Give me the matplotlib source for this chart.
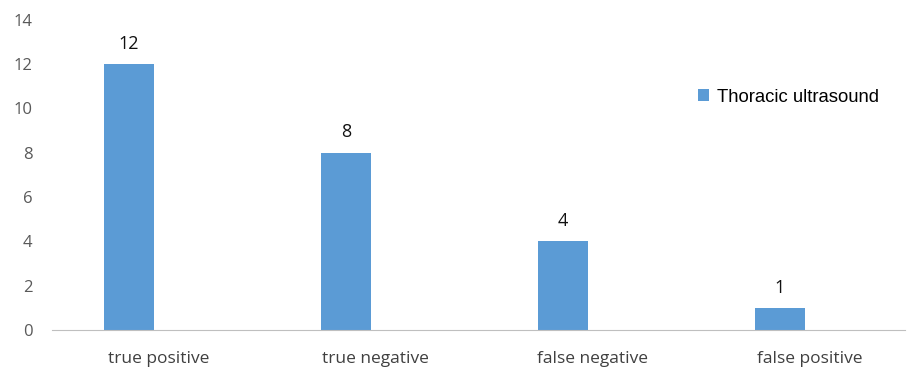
import matplotlib
matplotlib.use("Agg")
import matplotlib.pyplot as plt

categories = ["true positive", "true negative", "false negative", "false positive"]
values = [12, 8, 4, 1]
series_name = "Thoracic ultrasound"
BLUE = "#5B9BD5"

fig = plt.figure(figsize=(9.1, 3.7), dpi=100)
ax = fig.add_axes([52 / 910, 40 / 370, 853 / 910, 310.5 / 370])

# bars sit left of the category centre (space left for an empty 2nd series)
x = list(range(len(categories)))
bars = ax.bar(x, values, width=0.23, color=BLUE, label=series_name)
for xi, v in zip(x, values):
    ax.annotate(str(v), (xi, v), xytext=(0, 8), textcoords="offset points",
                ha="center", va="bottom", fontsize=13, color="#111111",
                family="Open Sans")

ax.set_ylim(0, 14)
ax.set_yticks(range(0, 15, 2))
ax.set_xlim(-0.355, 3.576)
ax.set_xticks([xi + 0.135 for xi in x])
ax.set_xticklabels(categories, fontsize=12.5, color="#404040", family="Open Sans")
for lab in ax.get_yticklabels():
    lab.set_fontsize(12); lab.set_color("#595959"); lab.set_family("Open Sans")

for s in ("top", "right", "left"):
    ax.spines[s].set_visible(False)
ax.spines["bottom"].set_color("#BFBFBF")
ax.tick_params(axis="both", length=0)
ax.tick_params(axis="x", pad=15)
ax.tick_params(axis="y", pad=14)

leg = ax.legend(loc="center left", bbox_to_anchor=(0.738, 0.75), frameon=False,
                handlelength=0.6, handleheight=0.6, handletextpad=0.4,
                prop={"family": "Liberation Sans", "size": 13.3})

fig.savefig("out.png", dpi=100)
